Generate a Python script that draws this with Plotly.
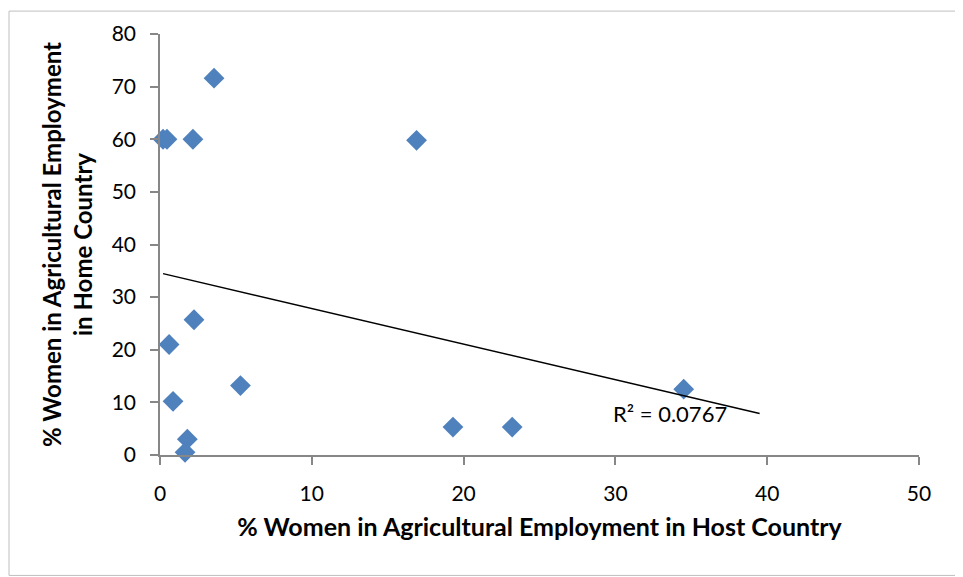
import numpy as np
import plotly.graph_objects as go

# Data
host_pct = [3.56, 0.2, 0.46, 2.17, 16.9, 2.24, 0.6, 0.86, 5.3, 1.8, 1.65, 19.3, 23.2, 34.5]
home_pct = [71.6, 60.0, 60.0, 60.0, 59.8, 25.7, 21.0, 10.2, 13.2, 3.0, 0.5, 5.3, 5.3, 12.5]
x_ticks = [0, 10, 20, 30, 40, 50]
y_ticks = [0, 10, 20, 30, 40, 50, 60, 70, 80]
r2_label = "R² = 0.0767"
forecast_forward = 5

FONT = "Lato, Carlito, Calibri, 'Open Sans', sans-serif"

# Linear trendline (Excel-style, with forward forecast)
slope, intercept = np.polyfit(host_pct, home_pct, 1)
tx = np.array([min(host_pct), max(host_pct) + forecast_forward])
ty = slope * tx + intercept

fig = go.Figure()
fig.add_trace(go.Scatter(
    x=host_pct, y=home_pct, mode="markers",
    marker=dict(symbol="diamond", size=16, color="#4F81BD",
                line=dict(width=0)),
    showlegend=False, cliponaxis=False,
))
fig.add_trace(go.Scatter(
    x=tx, y=ty, mode="lines",
    line=dict(color="black", width=1.5),
    showlegend=False,
))

fig.add_annotation(
    x=33.6, y=7.9, xref="x", yref="y", text=r2_label, showarrow=False,
    font=dict(family=FONT, size=22, color="black"),
)

axis_common = dict(
    showgrid=False, zeroline=False, showline=True,
    linecolor="#878787", linewidth=1.5,
    ticks="outside", ticklen=8, tickcolor="#878787", tickwidth=1.5,
    tickfont=dict(family=FONT, size=21, color="black"),
)

fig.update_xaxes(
    range=[0, 50], tickvals=x_ticks, ticklabelstandoff=11, **axis_common,
    title=dict(text="<b>% Women in Agricultural Employment in Host Country</b>",
               font=dict(family=FONT, size=25, color="black"), standoff=15),
)
fig.update_yaxes(
    range=[0, 80], tickvals=y_ticks, ticklabelstandoff=10, **axis_common,
    title=dict(text="<b>% Women in Agricultural Employment<br>in Home Country</b>",
               font=dict(family=FONT, size=24, color="black"), standoff=12),
)

fig.add_shape(type="rect", xref="paper", yref="paper",
              x0=-151/759, x1=1 + 43/759, y0=-121/423, y1=1 + 23/423,
              line=dict(color="#BFBFBF", width=1))

fig.update_layout(
    width=955, height=569,
    margin=dict(l=152, r=44, t=24, b=122),
    paper_bgcolor="white", plot_bgcolor="white",
    font=dict(family=FONT),
)

fig.write_html("out.html")
